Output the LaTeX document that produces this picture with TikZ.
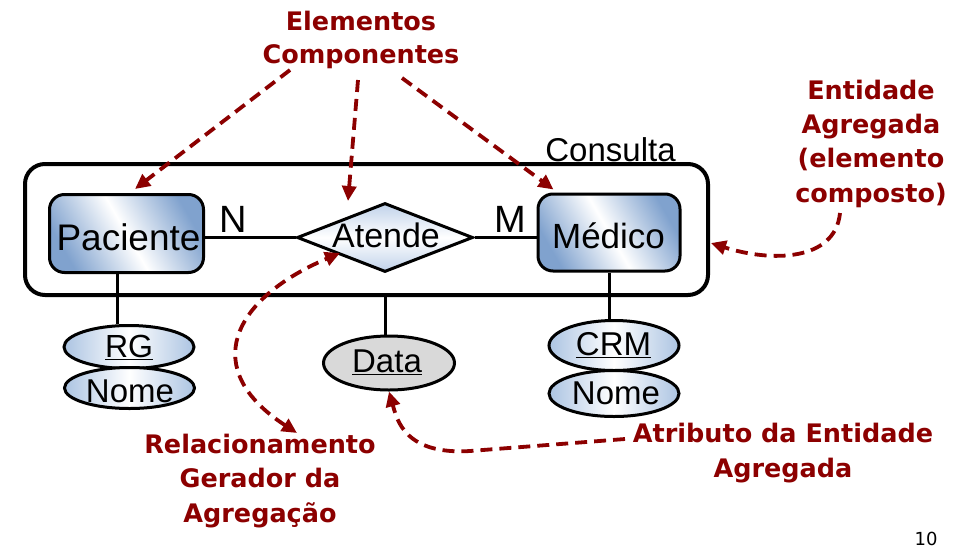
\documentclass[tikz,border=0pt]{standalone}
\usepackage{fontspec}
\setmainfont{Liberation Sans}
\newfontfamily\redfont{DejaVu Sans}
\usetikzlibrary{shapes.geometric,arrows.meta}
\definecolor{boxblue}{RGB}{128,162,206}
\definecolor{ellblue}{RGB}{172,196,226}
\definecolor{diablue}{RGB}{192,210,234}
\definecolor{darkred}{RGB}{140,0,0}
\definecolor{datagray}{RGB}{217,217,217}
\begin{document}
\begin{tikzpicture}[x=1pt,y=-1pt,
  ent/.style={draw, line width=3pt, rounded corners=15pt,
    left color=boxblue, right color=boxblue, middle color=white, shading angle=120,
    inner sep=0pt},
  rel/.style={draw, diamond, line width=3pt, top color=diablue, bottom color=diablue,
    middle color=white, inner sep=0pt, minimum width=176pt, minimum height=69pt},
  attr/.style={draw, ellipse, line width=3pt, left color=ellblue, right color=ellblue,
    middle color=white, inner sep=0pt, minimum width=130pt},
  conn/.style={draw, line width=3pt},
  txt/.style={anchor=base, inner sep=0pt},
  redlbl/.style={anchor=base, inner sep=0pt, align=center, text=darkred,
    font=\redfont\bfseries\fontsize{25.5pt}{34.3pt}\selectfont},
  rtip/.style={Triangle[length=15pt,width=14pt]},
  rarrow/.style={draw=darkred, line width=3.8pt, dash pattern=on 12pt off 7pt,
    -{Triangle[length=15pt,width=14pt]}}
]
\useasboundingbox (0,0) rectangle (979,554);

% aggregated entity
\node[draw, line width=4pt, rounded corners=20pt, minimum width=683pt, minimum height=131pt,
  inner sep=0pt] (agg) at (366.5,229.5) {};
\node[txt, font=\fontsize{33pt}{36pt}\selectfont] (lblc) at (610.5,161) {Consulta};

% shapes
\node[ent, minimum width=154pt, minimum height=78pt] (pac) at (126.5,233.5) {};
\node[ent, minimum width=142pt, minimum height=77pt] (med) at (609,232.5) {};
\node[rel] (dia) at (385,237.5) {};
\node[attr, minimum height=43pt] (rg) at (129,347) {};
\node[attr, minimum height=41pt] (nome1) at (129.5,388) {};
\node[draw, ellipse, line width=3pt, fill=datagray, inner sep=0pt,
  minimum width=131pt, minimum height=54pt] (data) at (389,363) {};
\node[attr, minimum height=50pt] (crm) at (614,345.5) {};
\node[attr, minimum height=46pt] (nome2) at (614,393.5) {};

% connectors
\draw[conn] (dia.west) -- (dia.west -| pac.east);
\draw[conn] (dia.east) -- (dia.east -| med.west);
\draw[conn] ([xshift=-9.5pt]pac.south) -- ([xshift=-9.5pt]pac.south |- rg.north);
\draw[conn] (dia.south |- agg.south) -- (dia.south |- data.north);
\draw[conn] (med.south) -- (med.south |- crm.north);

% texts
\node[txt, font=\fontsize{37pt}{40pt}\selectfont] (tpac) at (128.5,250) {Paciente};
\node[txt, font=\fontsize{35pt}{40pt}\selectfont] (tmed) at (608.5,248) {Médico};
\node[txt, font=\fontsize{34pt}{40pt}\selectfont] (tdia) at (386,247) {Atende};
\node[txt, font=\fontsize{38pt}{40pt}\selectfont] (lblN) at (233,232) {N};
\node[txt, font=\fontsize{38pt}{40pt}\selectfont] (lblM) at (510,232) {M};
\node[txt, font=\fontsize{32pt}{36pt}\selectfont] (trg) at (129,357) {\underline{RG}};
\node[txt, font=\fontsize{33pt}{36pt}\selectfont] (tnome1) at (130,402) {Nome};
\node[txt, font=\fontsize{33pt}{36pt}\selectfont] (tdata) at (387,372) {\underline{Data}};
\node[txt, font=\fontsize{33pt}{36pt}\selectfont] (tcrm) at (613.5,355) {\underline{CRM}};
\node[txt, font=\fontsize{33pt}{36pt}\selectfont] (tnome2) at (616,404) {Nome};

% red labels (anchor = baseline of last line)
\node[redlbl, font=\redfont\bfseries\fontsize{25.5pt}{33pt}\selectfont] (elem) at (361,63) {Elementos\\Componentes};
\node[redlbl] (entag) at (871,202) {Entidade\\Agregada\\(elemento\\composto)};
\node[redlbl] (relg) at (260,522) {Relacionamento\\Gerador da\\Agregação};
\node[redlbl] (atr) at (783,477) {Atributo da Entidade\\Agregada};
\node[txt, font=\redfont\fontsize{18pt}{20pt}\selectfont] (pg) at (926,545) {10};

% red dashed arrows
\coordinate (s1) at (290,70);
\coordinate (s2) at (358,80);
\coordinate (s3) at (402,78);
\coordinate (s4) at (840,213);
\coordinate (s5) at (297,433);
\coordinate (s6) at (625,439);
\coordinate (e2) at (348,201);
\coordinate (e5) at (340,253);
\draw[rarrow] (s1) -- ([xshift=8.5pt,yshift=4pt]pac.north);
\draw[rarrow] (s2) -- (e2);
\draw[rarrow] (s3) -- ([xshift=17pt,yshift=3pt]med.north west);
\draw[rarrow] (s4) .. controls (835,262) and (770,262) .. ([xshift=1pt,yshift=-13.5pt]agg.east);
\draw[rarrow, {Triangle[length=15pt,width=14pt]}-{Triangle[length=15pt,width=14pt]}]
  (s5) .. controls (200,370) and (230,300) .. (e5);
\draw[rarrow] (s6) -- (470,451) .. controls (405,455) and (397,420) .. (data.south);
\end{tikzpicture}
\end{document}
